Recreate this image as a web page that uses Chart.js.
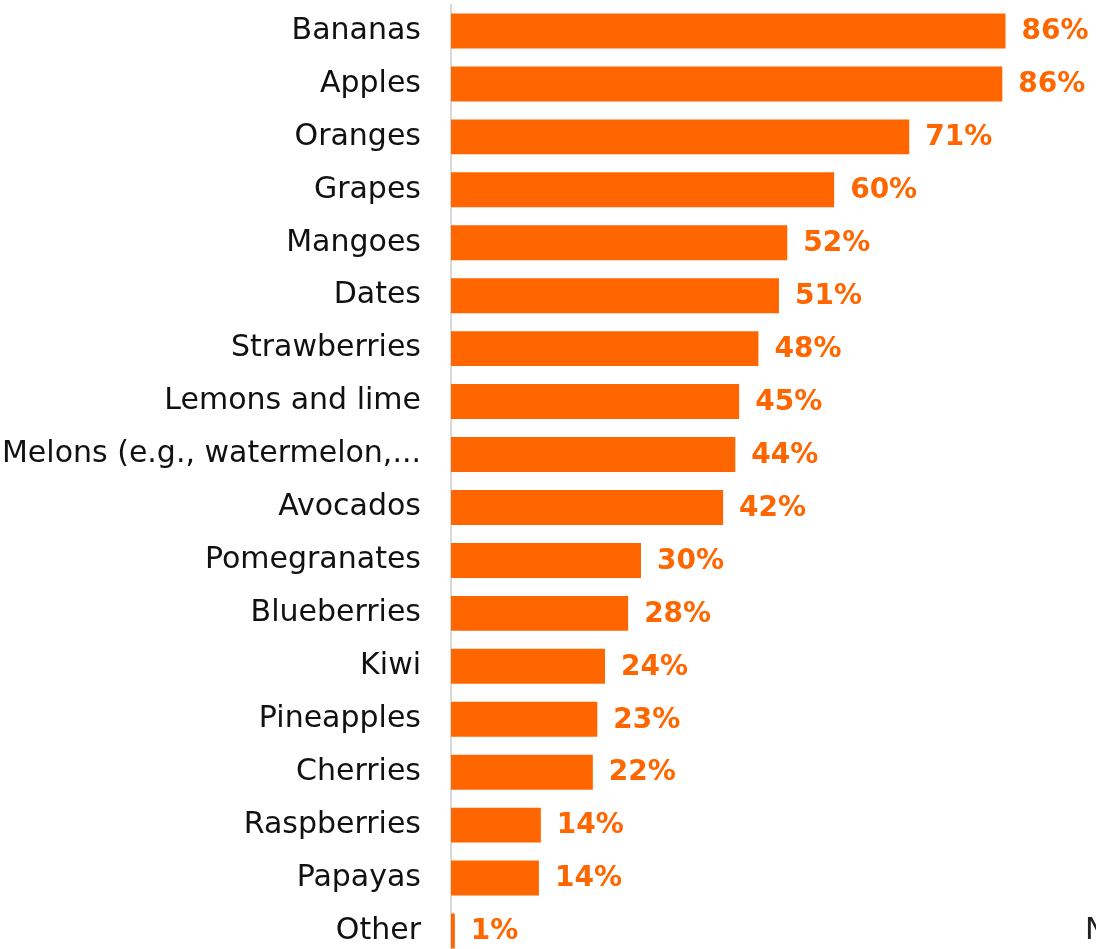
<!DOCTYPE html>
<html lang="en">
	<head>
		<meta charset="UTF-8" />
		<title>Fruit purchased</title>
		<script src="https://cdn.jsdelivr.net/npm/chart.js@4.1.2/dist/chart.umd.min.js"></script>
		<style>
			html, body { margin: 0; padding: 0; background: #fff; overflow: hidden; }
			#wrap { position: relative; width: 1096px; height: 962px; }
		</style>
	</head>
	<body>
		<div id="wrap"><canvas id="chart"></canvas></div>
		<script>
			const fruits = [
				"Bananas", "Apples", "Oranges", "Grapes", "Mangoes", "Dates",
				"Strawberries", "Lemons and lime", "Melons (e.g., watermelon,...",
				"Avocados", "Pomegranates", "Blueberries", "Kiwi", "Pineapples",
				"Cherries", "Raspberries", "Papayas", "Other"
			];
			const shares = [
				86.4, 85.9, 71.4, 59.7, 52.4, 51.1, 47.9, 44.9, 44.3,
				42.4, 29.6, 27.6, 24.0, 22.8, 22.1, 14.0, 13.7, 0.6
			];
			const orange = "#ff6600";
			const labelFont = "'DejaVu Sans', sans-serif";

			// value labels to the right of each bar
			const valueLabels = {
				id: "valueLabels",
				afterDatasetsDraw(chart) {
					const { ctx } = chart;
					const meta = chart.getDatasetMeta(0);
					ctx.save();
					ctx.fillStyle = orange;
					ctx.font = "bold 28px " + labelFont;
					ctx.textAlign = "left";
					ctx.textBaseline = "middle";
					meta.data.forEach((bar, i) => {
						ctx.fillText(Math.round(shares[i]) + "%", bar.x + 16, bar.y + 1);
					});
					ctx.fillStyle = "#222";
					ctx.font = "30px " + labelFont;
					ctx.fillText("N", 1085, meta.data[meta.data.length - 1].y);
					ctx.restore();
				},
			};

			new Chart(document.getElementById("chart"), {
				type: "bar",
				data: {
					labels: fruits,
					datasets: [
						{
							data: shares,
							backgroundColor: orange,
							barPercentage: 0.66,
							categoryPercentage: 1,
						},
					],
				},
				plugins: [valueLabels],
				options: {
					indexAxis: "y",
					responsive: true,
					maintainAspectRatio: false,
					animation: false,
					layout: { padding: 0 },
					plugins: {
						legend: { display: false },
						tooltip: { enabled: false },
					},
					scales: {
						x: {
							min: 0,
							max: 100.5,
							display: false,
						},
						y: {
							afterFit(scale) {
								scale.width = 451;
							},
							grid: {
								drawOnChartArea: false,
								drawTicks: true,
								tickLength: 30,
								tickColor: "rgba(0,0,0,0)",
							},
							border: { display: true, color: "#d9d9d9", width: 2 },
							ticks: {
								padding: 0,
								color: "#111",
								font: { family: labelFont, size: 30, lineHeight: 0.3 },
							},
						},
					},
				},
			});
		</script>
	</body>
</html>
